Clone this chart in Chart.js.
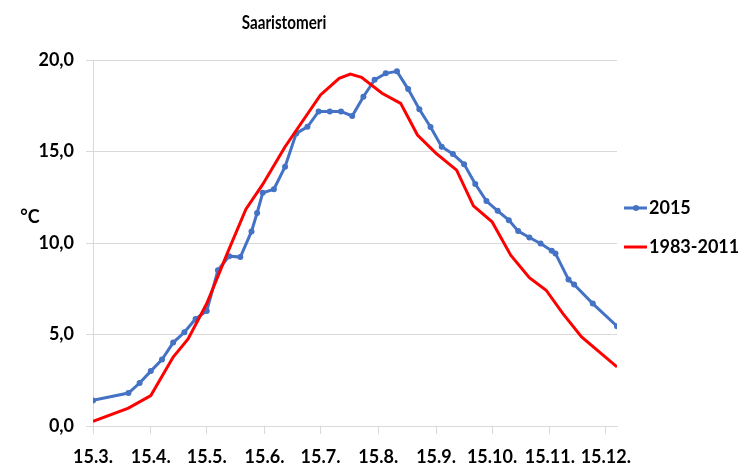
<!DOCTYPE html>
<html>
<head>
<meta charset="utf-8">
<script src="https://cdn.jsdelivr.net/npm/chart.js@4"></script>
<style>
  html, body { margin: 0; padding: 0; background: #fff; }
  #wrap { width: 746px; height: 469px; }
</style>
</head>
<body>
<div id="wrap"><canvas id="seaChart" width="746" height="469"></canvas></div>
<script>
// Saaristomeri: surface water temperature, 2015 vs 1983-2011
// x values are day of year (2015), 15.3. = day 74
const days2015 = [74, 93, 99, 105, 111, 117, 123, 129, 135, 141, 147, 153, 159, 162, 165, 171, 177, 183, 189, 195,
    201, 207, 213, 219, 225, 231, 237, 243, 249, 255, 261, 267, 273, 279, 285, 291, 297, 302, 308, 314,
    320, 322, 329, 332, 342, 355];
const temps2015 = [1.4, 1.8, 2.35, 3.0, 3.63, 4.56, 5.12, 5.85, 6.29, 8.51, 9.28, 9.23, 10.63, 11.64, 12.74, 12.94, 14.17, 15.99, 16.35, 17.19,
    17.19, 17.19, 16.94, 17.99, 18.92, 19.27, 19.38, 18.41, 17.31, 16.34, 15.26, 14.86, 14.31, 13.22, 12.29, 11.76, 11.25, 10.65, 10.3, 9.97,
    9.57, 9.43, 8.0, 7.73, 6.69, 5.45];

const daysAvg = [74, 93, 105, 117, 125, 135, 146, 156, 165, 177, 196, 206, 212, 218, 229, 239, 248, 258, 269, 278,
    288, 298, 308, 317, 326, 336, 355];
const tempsAvg = [0.26, 0.98, 1.66, 3.77, 4.76, 6.69, 9.43, 11.85, 13.2, 15.26, 18.09, 19.0, 19.23, 19.05, 18.18, 17.63, 15.9, 14.9, 13.98, 12.03,
    11.16, 9.33, 8.11, 7.42, 6.14, 4.87, 3.23];

const tickDays = [74, 105, 135, 166, 196, 227, 258, 288, 319, 349];
const tickLabels = ['15.3.', '15.4.', '15.5.', '15.6.', '15.7.', '15.8.', '15.9.', '15.10.', '15.11.', '15.12.'];

const seriesNames = ['2015', '1983-2011'];
const blue = '#4472C4';
const red = '#FF0000';
const gridGrey = '#d9d9d9';
const FONT = 'Lato, "Open Sans", sans-serif';

const toPoints = (xs, ys) => xs.map((x, i) => ({ x: x, y: ys[i] }));

// title, unit label and legend drawn by hand so they sit where the original has them
const extras = {
    id: 'extras',
    afterDraw(chart) {
        const c = chart.ctx;
        c.save();
        c.fillStyle = '#000';
        c.textBaseline = 'middle';
        c.textAlign = 'center';
        // title is a narrow face in the original, squeeze it a bit
        c.save();
        c.translate(284, 23);
        c.scale(0.8, 1);
        c.font = 'bold 19px ' + FONT;
        c.fillText('Saaristomeri', 0, 0);
        c.restore();
        c.font = 'bold 18px ' + FONT;
        c.fillText('°C', 30, 217);

        // legend
        c.textAlign = 'left';
        const rows = [
            { y: 208, color: blue, marker: true, text: seriesNames[0] },
            { y: 247, color: red, marker: false, text: seriesNames[1] }
        ];
        rows.forEach(r => {
            c.strokeStyle = r.color;
            c.lineWidth = 3;
            c.beginPath();
            c.moveTo(624, r.y);
            c.lineTo(647, r.y);
            c.stroke();
            if (r.marker) {
                c.fillStyle = r.color;
                c.beginPath();
                c.arc(636, r.y, 3, 0, Math.PI * 2);
                c.fill();
            }
            c.fillStyle = '#000';
            c.fillText(r.text, 649, r.y);
        });
        c.restore();
    }
};

const ctxSea = document.getElementById('seaChart').getContext('2d');
const seaChart = new Chart(ctxSea, {
    type: 'line',
    data: {
        datasets: [{
            label: seriesNames[0],
            data: toPoints(days2015, temps2015),
            borderColor: blue,
            backgroundColor: blue,
            borderWidth: 3,
            pointRadius: 3,
            pointBorderWidth: 0,
            pointBackgroundColor: blue,
            tension: 0,
            order: 1
        }, {
            label: seriesNames[1],
            data: toPoints(daysAvg, tempsAvg),
            borderColor: red,
            backgroundColor: red,
            borderWidth: 3,
            pointRadius: 0,
            tension: 0,
            order: 0
        }]
    },
    options: {
        responsive: false,
        animation: false,
        layout: { padding: { top: 60, right: 129, bottom: 0, left: 0 } },
        plugins: {
            legend: { display: false },
            tooltip: { enabled: false }
        },
        scales: {
            x: {
                type: 'linear',
                min: 74,
                max: 355,
                afterBuildTicks: s => { s.ticks = tickDays.map(v => ({ value: v })); },
                afterFit: s => { s.height = 43; },
                grid: { drawOnChartArea: false, drawTicks: true, tickLength: 8, color: gridGrey },
                border: { display: true, color: gridGrey },
                ticks: {
                    autoSkip: false,
                    maxRotation: 0,
                    padding: 12,
                    color: '#000',
                    font: { family: FONT, size: 18, weight: 'bold' },
                    callback: (v) => tickLabels[tickDays.indexOf(v)]
                }
            },
            y: {
                min: 0,
                max: 20,
                afterFit: s => { s.width = 93; },
                grid: { color: gridGrey, tickLength: 7, drawTicks: true },
                border: { display: true, color: gridGrey },
                ticks: {
                    stepSize: 5,
                    padding: 12,
                    color: '#000',
                    font: { family: FONT, size: 18, weight: 'bold' },
                    callback: v => v.toFixed(1).replace('.', ',')
                }
            }
        }
    },
    plugins: [extras]
});
</script>
</body>
</html>
